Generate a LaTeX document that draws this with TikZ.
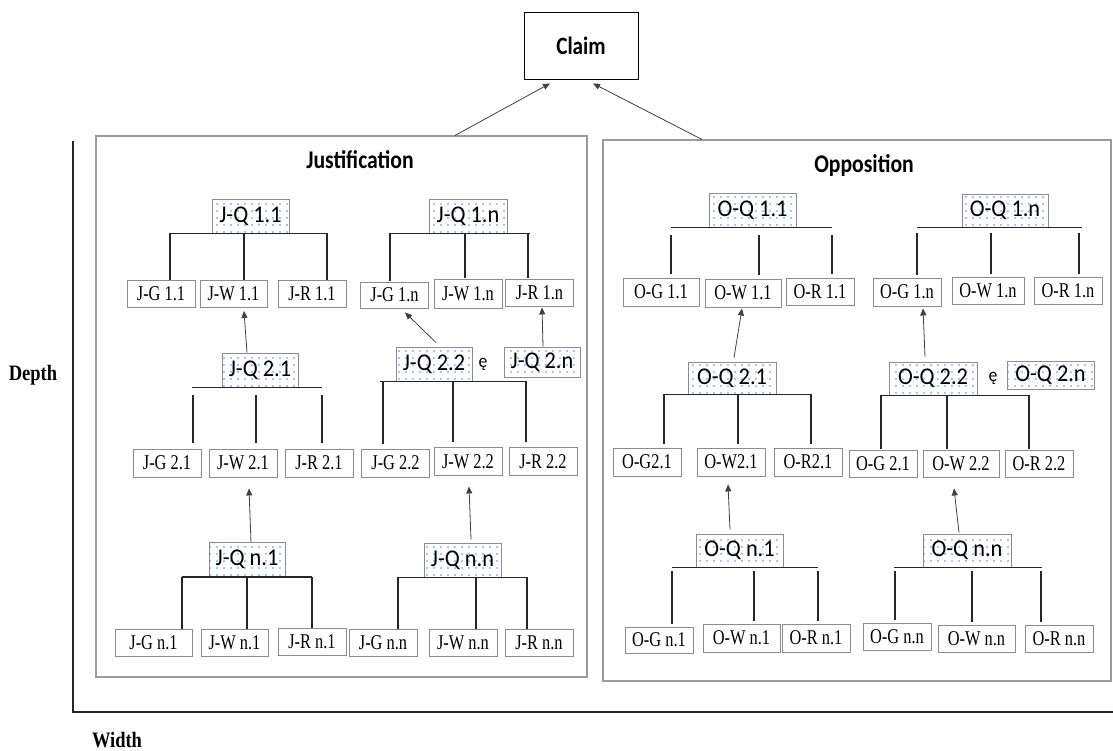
\documentclass[tikz,border=0pt]{standalone}
\usepackage{fontspec}
\usetikzlibrary{patterns.meta,arrows.meta,calc}

\newfontfamily\leaffont[FakeStretch=0.78]{Liberation Serif}
\newfontfamily\qfont[FakeStretch=0.93]{Carlito}
\newfontfamily\headfont[FakeStretch=0.85]{Carlito}
\newfontfamily\axisfont[FakeStretch=0.84]{Liberation Serif}

\definecolor{boxgray}{HTML}{8C8C8C}
\definecolor{panelgray}{HTML}{9A9A9A}
\definecolor{dotblue}{HTML}{4A90D9}
\definecolor{barblack}{HTML}{262626}
\definecolor{arrowgray}{HTML}{404040}

\tikzset{
  leaf/.style={draw=boxgray, line width=0.9pt, fill=white, inner sep=0pt,
    minimum width=68pt, minimum height=27pt,
    font=\leaffont\fontsize{21}{21}\selectfont},
  qbox/.style={draw=boxgray, line width=0.9pt, inner sep=0pt,
    pattern={Dots[distance=7pt,radius=0.9pt]}, pattern color=dotblue,
    minimum width=77pt, minimum height=34pt,
    font=\qfont\fontsize{24}{24}\selectfont},
  panel/.style={draw=panelgray, line width=1.1pt, fill=white, inner sep=0pt},
  claimbox/.style={draw=black, line width=0.9pt, fill=white, inner sep=0pt,
    font=\headfont\bfseries\fontsize{25}{25}\selectfont},
  heading/.style={font=\headfont\bfseries\fontsize{25.5}{25.5}\selectfont, inner sep=0pt},
  axislabel/.style={font=\axisfont\bfseries\fontsize{22}{22}\selectfont, inner sep=0pt},
  orsign/.style={font=\qfont\fontsize{19}{19}\selectfont, inner sep=0pt},
  bar/.style={draw=barblack, line width=1.4pt},
  axisline/.style={draw=barblack, line width=1.6pt},
  arr/.style={draw=arrowgray, line width=0.8pt, -{Triangle[length=7pt,width=6pt]}},
}

% #1 tree id, #2/#3 left/right end of the bar, #4/#5/#6 x of the three drops,
% #7 gap below the bar, #8 gap above the leaves
\newcommand\qtree[8]{%
  \draw[bar] (#2,0 |- Q#1.south) -- (#3,0 |- Q#1.south);
  \foreach \xx/\lf in {#4/G#1, #5/W#1, #6/R#1}
    \draw[bar] ($(\xx,0 |- Q#1.south)+(0,#7)$) -- ($(\xx,0 |- \lf.north)+(0,-#8)$);
}

\begin{document}
\begin{tikzpicture}[x=1pt, y=-1pt]
\useasboundingbox (0,0) rectangle (1113,750);

% axes
\coordinate (origin) at (73,712);
\coordinate (ytop) at (73,141);
\coordinate (xend) at (1113,712);
\draw[axisline] (ytop) -- (origin) -- (xend);
\node[axislabel] (depth) at (33,375) {Depth};
\node[axislabel] (width) at (117,740) {Width};

% panels
\node[panel, minimum width=491pt, minimum height=541pt] (just) at (341.5,406.5) {};
\node[panel, minimum width=508pt, minimum height=541pt] (opp) at (857,410.5) {};
\node[heading] (jtitle) at (360,160) {Justification};
\node[heading] (otitle) at (864,166) {Opposition};

% claim
\node[claimbox, minimum width=114pt, minimum height=67pt] (claim) at (581,45.5) {Claim};
\draw[arr] ([xshift=113.5pt]just.north) -- ([xshift=-31pt,yshift=-4pt]claim.south);
\draw[arr] ([xshift=-155pt]opp.north) -- ([xshift=12pt,yshift=-4pt]claim.south);

% ---------------- Justification ----------------
\node[qbox] (Qj11) at (250.5,216) {J-Q 1.1};
\node[leaf] (Gj11) at (161,294) {J-G 1.1};
\node[leaf, minimum width=67pt] (Wj11) at (233.5,294) {J-W 1.1};
\node[leaf] (Rj11) at (312,294) {J-R 1.1};
\qtree{j11}{170}{327}{170}{244}{327}{0}{0}

\node[qbox, minimum width=78pt] (Qj1n) at (468,216) {J-Q 1.n};
\node[leaf, minimum height=26pt] (Gj1n) at (394.5,295) {J-G 1.n};
\node[leaf, minimum height=29pt] (Wj1n) at (468,293.5) {J-W 1.n};
\node[leaf] (Rj1n) at (539.5,292.5) {J-R 1.n};
\qtree{j1n}{390}{530}{390}{465}{528}{0}{1}

\node[qbox, minimum width=76pt] (Qj21) at (260,370) {J-Q 2.1};
\node[leaf, minimum height=28pt] (Gj21) at (167,463) {J-G 2.1};
\node[leaf, minimum height=28pt] (Wj21) at (243,463) {J-W 2.1};
\node[leaf, minimum height=28pt] (Rj21) at (319,463) {J-R 2.1};
\qtree{j21}{192}{322}{193}{256}{322}{8}{6}

\node[qbox, minimum width=76pt] (Qj22) at (434,364) {J-Q 2.2};
\node[orsign] (ej) at (483,364) {ę};
\node[qbox, minimum width=76pt, minimum height=30pt] (Qj2n) at (542,362) {J-Q 2.n};
\node[leaf, minimum height=28pt] (Gj22) at (395.5,463) {J-G 2.2};
\node[leaf, minimum height=28pt] (Wj22) at (468,461.5) {J-W 2.2};
\node[leaf, minimum height=28pt] (Rj22) at (543,461.5) {J-R 2.2};
\qtree{j22}{380}{526}{383}{453}{526}{0}{5}

\node[qbox, minimum width=76pt] (Qjn1) at (247,559.5) {J-Q n.1};
\node[leaf, minimum width=77pt] (Gjn1) at (153.5,642.5) {J-G n.1};
\node[leaf, minimum width=67pt] (Wjn1) at (234.5,642.5) {J-W n.1};
\node[leaf] (Rjn1) at (312,641.5) {J-R n.1};
\qtree{jn1}{182}{312}{182}{247}{312}{0}{0}

\node[qbox] (Qjnn) at (462.5,560) {J-Q n.n};
\node[leaf] (Gjnn) at (383,642.5) {J-G n.n};
\node[leaf] (Wjnn) at (463,642.5) {J-W n.n};
\node[leaf] (Rjnn) at (539,642.5) {J-R n.n};
\qtree{jnn}{398}{527}{398}{476}{527}{0}{0}

\draw[arr] ([xshift=-13pt]Qj21.north) -- ([xshift=10.5pt,yshift=-3pt]Wj11.south);
\draw[arr] ([xshift=2pt,yshift=4pt]Qj22.north) -- ([xshift=10.5pt,yshift=-4pt]Gj1n.south);
\draw[arr] ([xshift=1pt]Qj2n.north) -- ([xshift=2.5pt,yshift=-1pt]Rj1n.south);
\draw[arr] ([xshift=4pt]Qjn1.north) -- ([xshift=6pt,yshift=-11pt]Wj21.south);
\draw[arr] ([xshift=8.5pt,yshift=3pt]Qjnn.north) -- ([xshift=1pt,yshift=-10.5pt]Wj22.south);

% ---------------- Opposition ----------------
\node[qbox, minimum width=87pt] (Qo11) at (752.5,210) {O-Q 1.1};
\node[leaf, minimum width=76pt, minimum height=28pt] (Go11) at (661,292) {O-G 1.1};
\node[leaf, minimum width=76pt, minimum height=28pt] (Wo11) at (743,293) {O-W 1.1};
\node[leaf] (Ro11) at (820,291.5) {O-R 1.1};
\qtree{o11}{671}{832}{671}{759}{832}{8}{4}

\node[qbox, minimum width=86pt, minimum height=33pt] (Qo1n) at (1005,210.5) {O-Q 1.n};
\node[leaf, minimum height=28pt] (Go1n) at (907,292) {O-G 1.n};
\node[leaf, minimum width=72pt] (Wo1n) at (988,290.5) {O-W 1.n};
\node[leaf] (Ro1n) at (1068,290.5) {O-R 1.n};
\qtree{o1n}{917}{1082}{917}{991}{1079}{6}{3}

\node[qbox, minimum width=88pt, minimum height=32pt] (Qo21) at (732,378) {O-Q 2.1};
\node[leaf, minimum height=28pt] (Go21) at (647,462) {O-G2.1};
\node[leaf, minimum height=28pt] (Wo21) at (731,462) {O-W2.1};
\node[leaf, minimum height=28pt] (Ro21) at (808,462) {O-R2.1};
\qtree{o21}{664}{811}{664}{738}{811}{0}{4}

\node[qbox, minimum width=88pt, minimum height=33pt] (Qo22) at (933,378.5) {O-Q 2.2};
\node[orsign] (eo) at (993,378) {ę};
\node[qbox, minimum width=87pt, minimum height=28pt] (Qo2n) at (1050.5,375.5) {O-Q 2.n};
\node[leaf] (Go22) at (883,463.5) {O-G 2.1};
\node[leaf, minimum width=76pt] (Wo22) at (961,463.5) {O-W 2.2};
\node[leaf] (Ro22) at (1039,463.5) {O-R 2.2};
\qtree{o22}{881}{1029}{881}{947}{1029}{0}{1}

\node[qbox, minimum width=87pt, minimum height=33pt] (Qon1) at (739.5,550.5) {O-Q n.1};
\node[leaf, minimum height=26pt] (Gon1) at (659,640) {O-G n.1};
\node[leaf, minimum width=77pt, minimum height=28pt] (Won1) at (741.5,638) {O-W n.1};
\node[leaf, minimum height=28pt] (Ron1) at (816,638) {O-R n.1};
\qtree{on1}{672}{818}{672}{754}{818}{4}{3}

\node[qbox, minimum width=88pt, minimum height=33pt] (Qonn) at (967,550.5) {O-Q n.n};
\node[leaf] (Gonn) at (897,636.5) {O-G n.n};
\node[leaf, minimum width=77pt] (Wonn) at (976.5,638.5) {O-W n.n};
\node[leaf] (Ronn) at (1059,638.5) {O-R n.n};
\qtree{onn}{894}{1042}{895}{972}{1041}{4}{3}

\draw[arr] ([xshift=2pt,yshift=4pt]Qo21.north) -- ([xshift=-1pt,yshift=-1pt]Wo11.south);
\draw[arr] ([xshift=-8pt,yshift=5pt]Qo22.north) -- ([xshift=16pt,yshift=-2pt]Go1n.south);
\draw[arr] ([xshift=-9.5pt,yshift=4pt]Qon1.north) -- ([xshift=-3pt,yshift=-8pt]Wo21.south);
\draw[arr] ([xshift=-8pt,yshift=1pt]Qonn.north) -- ([xshift=-7pt,yshift=-11pt]Wo22.south);
\end{tikzpicture}
\end{document}
